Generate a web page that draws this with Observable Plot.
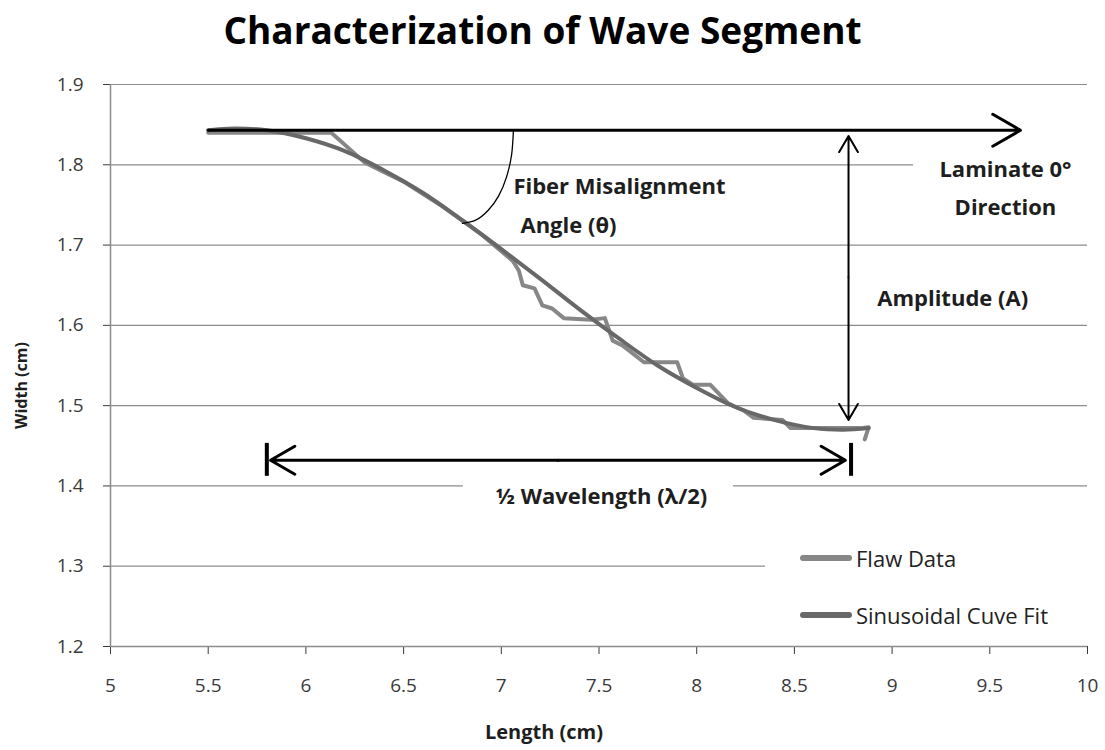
<!DOCTYPE html>
<html><head><meta charset="utf-8">
<script src="https://cdn.jsdelivr.net/npm/d3@7"></script>
<script src="https://cdn.jsdelivr.net/npm/@observablehq/plot@0.6"></script>
<style>
body{margin:0;background:#fff;font-family:"Open Sans",Lato,sans-serif;}
#wrap{position:relative;width:1105px;height:750px;overflow:hidden;background:#fff;}
#title{position:absolute;left:0;top:4px;width:1085px;text-align:center;font-weight:700;font-size:37px;color:#000;}
#chart{position:absolute;left:0;top:60px;}
#legend{position:absolute;left:800px;top:544px;font-size:22px;color:#222;}
.item{display:flex;align-items:center;height:28px;margin-bottom:29px;}
.sw{width:52px;height:6px;border-radius:3px;margin-right:4px;}
</style></head>
<body>
<div id="wrap">
<div id="title">Characterization of Wave Segment</div>
<div id="chart"></div>
<div id="legend"></div>
</div>
<script>
// ---- data ----
const xTicks = [5, 5.5, 6, 6.5, 7, 7.5, 8, 8.5, 9, 9.5, 10];
const yTicks = [1.2, 1.3, 1.4, 1.5, 1.6, 1.7, 1.8, 1.9];

const flawX = [5.5, 6.13, 6.3, 6.5, 6.7, 6.9, 7.06, 7.09, 7.11, 7.17, 7.21, 7.26, 7.32, 7.46, 7.53, 7.57, 7.62, 7.73, 7.90, 7.93, 7.98, 8.07, 8.16, 8.24, 8.29, 8.44, 8.48, 8.84, 8.88, 8.86];
const flawY = [1.840, 1.840, 1.803, 1.779, 1.748, 1.713, 1.680, 1.668, 1.650, 1.646, 1.625, 1.621, 1.609, 1.607, 1.609, 1.581, 1.575, 1.554, 1.554, 1.534, 1.526, 1.526, 1.503, 1.494, 1.485, 1.482, 1.472, 1.472, 1.473, 1.458];

const fitX = [5.5, 5.6, 5.8, 6.0, 6.2, 6.4, 6.6, 6.8, 7.0, 7.2, 7.4, 7.6, 7.8, 8.0, 8.2, 8.4, 8.6, 8.75, 8.88];
const fitY = [1.843, 1.845, 1.843, 1.833, 1.817, 1.793, 1.765, 1.731, 1.695, 1.658, 1.620, 1.584, 1.550, 1.522, 1.498, 1.482, 1.472, 1.470, 1.472];

const seriesNames = ["Flaw Data", "Sinusoidal Cuve Fit"];
const seriesColors = ["#878787", "#686868"];

// annotation geometry (in data units)
const angleArcX = [7.062, 7.053, 7.027, 6.986, 6.932, 6.869, 6.801];
const angleArcY = [1.843, 1.813, 1.785, 1.761, 1.743, 1.731, 1.727];

const startLabels = [
  {x: 7.062, y: 1.773, text: "Fiber Misalignment"},
  {x: 7.098, y: 1.724, text: "Angle (θ)"}
];
const midLabels = [
  {x: 9.58, y: 1.793, text: "Laminate 0°"},
  {x: 9.58, y: 1.746, text: "Direction"},
  {x: 9.31, y: 1.633, text: "Amplitude (A)"},
  {x: 7.513, y: 1.386, text: "½ Wavelength (λ/2)"}
];

const boxes = [
  {x1: 9.11, x2: 10, y1: 1.72, y2: 1.82},
  {x1: 6.806, x2: 8.188, y1: 1.36, y2: 1.412},
  {x1: 8.352, x2: 10, y1: 1.215, y2: 1.33}
];

// ---- build tables ----
const flaw = flawX.map((x, i) => ({x, y: flawY[i]}));
const fit = fitX.map((x, i) => ({x, y: fitY[i]}));
const arc = angleArcX.map((x, i) => ({x, y: angleArcY[i]}));

const font = "'Open Sans', Lato, sans-serif";
const ann = {x: "x", y: "y", text: "text", fontWeight: "bold", fontSize: 22, fill: "#1e1e1e"};

const chart = Plot.plot({
  width: 1105,
  height: 690,
  marginTop: 24,
  marginLeft: 110,
  marginRight: 18,
  marginBottom: 104,
  style: {fontFamily: font, fontSize: "19px", color: "#3a3a3a", background: "#fff", overflow: "visible"},
  x: {domain: [5, 10], ticks: xTicks, tickFormat: d => String(d), tickSize: 8, tickPadding: 24, label: null},
  y: {domain: [1.2, 1.9], ticks: yTicks, tickFormat: d => d.toFixed(1), tickSize: 7, tickPadding: 20, label: null},
  marks: [
    Plot.ruleY(yTicks.slice(1), {stroke: "#8c8c8c", strokeWidth: 1.2, strokeOpacity: 1}),
    Plot.rect(boxes, {x1: "x1", x2: "x2", y1: "y1", y2: "y2", fill: "white"}),
    Plot.ruleX([5], {stroke: "#8c8c8c", strokeWidth: 1.5}),
    Plot.ruleY([1.2], {stroke: "#8c8c8c", strokeWidth: 1.5}),
    Plot.line(flaw, {x: "x", y: "y", stroke: seriesColors[0], strokeWidth: 4, strokeLinejoin: "round", strokeLinecap: "round"}),
    Plot.line(fit, {x: "x", y: "y", stroke: seriesColors[1], strokeWidth: 4, curve: "catmull-rom", strokeLinecap: "round"}),
    // laminate 0° direction arrow
    Plot.arrow([{x1: 5.5, y1: 1.843, x2: 9.657, y2: 1.843}], {x1: "x1", y1: "y1", x2: "x2", y2: "y2", stroke: "black", strokeWidth: 3, headLength: 16, headAngle: 60}),
    // amplitude double arrow
    Plot.arrow([{x1: 8.777, y1: 1.66, x2: 8.777, y2: 1.836}, {x1: 8.777, y1: 1.66, x2: 8.777, y2: 1.482}], {x1: "x1", y1: "y1", x2: "x2", y2: "y2", stroke: "black", strokeWidth: 2, headLength: 14, headAngle: 60}),
    // half wavelength double arrow
    Plot.arrow([{x1: 7.29, y1: 1.432, x2: 5.819, y2: 1.432}, {x1: 7.29, y1: 1.432, x2: 8.761, y2: 1.432}], {x1: "x1", y1: "y1", x2: "x2", y2: "y2", stroke: "black", strokeWidth: 3, headLength: 14, headAngle: 60}),
    Plot.ruleX([5.80, 8.79], {y1: 1.412, y2: 1.453, stroke: "black", strokeWidth: 4}),
    // angle arc
    Plot.line(arc, {x: "x", y: "y", stroke: "black", strokeWidth: 1.3, curve: "natural"}),
    Plot.text(startLabels, {...ann, textAnchor: "start"}),
    Plot.text(midLabels, {...ann, textAnchor: "middle"}),
    Plot.text([{t: "Width (cm)", y: 1.525}], {frameAnchor: "left", textAnchor: "middle", y: "y", text: "t", dx: -89, rotate: -90, fontWeight: "bold", fontSize: 16, fill: "#1e1e1e"}),
    Plot.text(["Length (cm)"], {frameAnchor: "bottom", dx: -55, dy: 92, fontWeight: "bold", fontSize: 20, fill: "#1e1e1e"})
  ]
});
document.getElementById("chart").appendChild(chart);

const leg = document.getElementById("legend");
seriesNames.forEach((n, i) => {
  const it = document.createElement("div");
  it.className = "item";
  const sw = document.createElement("div");
  sw.className = "sw";
  sw.style.background = seriesColors[i];
  const t = document.createElement("span");
  t.textContent = n;
  it.appendChild(sw); it.appendChild(t);
  leg.appendChild(it);
});
</script>
</body></html>
